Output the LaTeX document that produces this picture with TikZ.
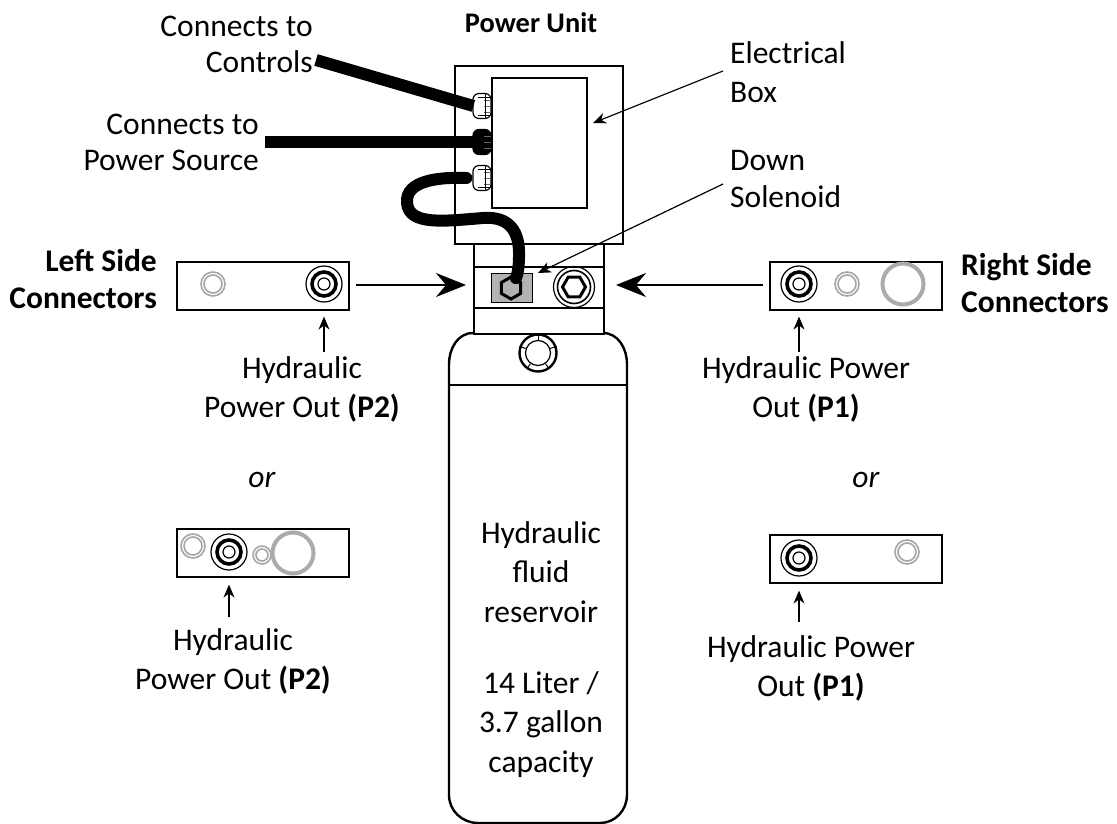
\documentclass[tikz,border=0pt]{standalone}
\usepackage{fontspec}
\setmainfont{Carlito}
\usetikzlibrary{shapes.geometric,arrows.meta}
\begin{document}
\begin{tikzpicture}[x=1pt, y=-1pt, line width=2.4pt,
    lbl/.style = {font=\fontsize{31.5}{36}\selectfont, inner sep=0pt},
    lblbold/.style = {font=\fontsize{31.5}{37.5}\selectfont\bfseries, inner sep=0pt},
    lblwide/.style = {font=\fontsize{31.5}{39.5}\selectfont, inner sep=0pt, align=center},
    box/.style = {draw, inner sep=0pt, anchor=north west, fill=white},
    plate/.style = {box, minimum width=172pt, minimum height=48pt, line width=1.6pt},
    ring/.style = {draw, circle, inner sep=0pt},
    grayring/.style = {ring, draw=black!35, line width=1.6pt},
    bigring/.style = {ring, draw=black!33, line width=4pt, minimum size=41pt},
    hexa/.style = {draw, regular polygon, regular polygon sides=6, inner sep=0pt},
    gland/.style = {draw, fill=white, rounded corners=6pt, minimum width=18pt, minimum height=25pt, inner sep=0pt, line width=1.2pt},
    cable/.style = {line width=12pt},
    leader/.style = {-{Stealth[length=13pt, width=11pt]}, line width=1.2pt},
    portarrow/.style = {leader, shorten >=14pt},
    bigarrow/.style = {-{Stealth[length=30pt, width=24pt, inset=10pt]}, line width=2.2pt}]
    \useasboundingbox (0,0) rectangle (1117,824);
    % reservoir and neck
    \draw (473,333) to[out=180, in=90] (449,364) -- (449,795) to[out=270, in=180] (478,823) -- (600,823) to[out=0, in=270] (627,795) -- (627,364) to[out=90, in=0] (603,333) -- cycle;
    \draw (449,385) -- (627,385);
    \node[box, minimum width=130pt, minimum height=90pt] (neck) at (473,243) {};
    \draw (473,267) -- (603,267);
    \draw (473,308) -- (603,308);
    \node[ring, minimum size=37pt] (fillcap) at (538,353) {};
    \node[ring, line width=1.2pt, minimum size=25pt] (fillin) at (538,353) {};
    \foreach \a in {20,90,160,235,305}
        \draw[line width=1.0pt] (fillcap.\a) -- (fillin.\a);
    % solenoid and plug
    \node[box, fill=black!30, line width=1.2pt, minimum width=41pt, minimum height=29pt] (solenoid) at (491,273) {};
    \node[ring, line width=1.2pt, minimum size=41pt] (plugA) at (574,287) {};
    \node[ring, line width=1.6pt, minimum size=33pt] (plugB) at (574,287) {};
    \node[hexa, line width=3pt, minimum size=23pt] (plugH) at (574,287) {};
    \node[hexa, shape border rotate=30, line width=3pt, fill=black!30, minimum size=22pt] (hexbolt) at (511,288) {};
    % power unit
    \node[box, minimum width=168pt, minimum height=178pt] (power) at (454,65) {};
    \node[box, minimum width=95pt, minimum height=130pt] (elec) at (491,77) {};
    % glands
    \node[gland] (glandA) at (482,106) {};
    \node[gland, fill=black] (glandB) at (482,142) {};
    \node[gland] (glandC) at (482,178) {};
    \foreach \y in {100,106,112,136,142,148,172,178,184}
        \draw[line width=0.8pt, draw=black!60] (484,\y) -- (491,\y);
    \foreach \y in {106,178} {
        \draw[line width=0.8pt] (478,\y-9) -- (491,\y-9);
        \draw[line width=0.8pt] (478,\y+9) -- (491,\y+9);
        \draw[line width=0.8pt] (485,\y-12) -- (485,\y+12);
    }
    % cables
    \coordinate (ctrlEnd) at (316,60);
    \coordinate (srcEnd) at (265,142);
    \draw[cable] (ctrlEnd) -- ([xshift=1pt]glandA.west);
    \draw[cable] (srcEnd) -- ([xshift=1pt]glandB.west);
    \draw[cable, line cap=round] ([xshift=-6pt]glandC.west) .. controls (440,177) and (405,180) .. (407,203) .. controls (409,226) and (445,221) .. (483,218) .. controls (510,216) and (520,232) .. (519,257) .. controls (519,268) and (517,276) .. (hexbolt);
    % plates
    \node[plate] (plateLT) at (176,261) {};
    \node[plate] (plateRT) at (769,261) {};
    \node[plate] (plateLB) at (176,528) {};
    \node[plate] (plateRB) at (769,534) {};
    % black ports
    \foreach \n/\x/\y in {pLT/324/284, pRT/799/284, pLB/229/552, pRB/799/558} {
        \node[ring, line width=1.2pt, minimum size=36pt] (\n a) at (\x,\y) {};
        \node[ring, line width=3.6pt, minimum size=24pt] (\n b) at (\x,\y) {};
        \node[ring, line width=1.2pt, minimum size=12pt] (\n c) at (\x,\y) {};
    }
    % gray ports
    \foreach \n/\x/\y/\s in {gLT/213/284/24, gRT/847/284/24, gLB/193/546/24, gRB/907/552/24, gLC/262/555/18} {
        \node[grayring, minimum size=\s pt] (\n a) at (\x,\y) {};
        \node[grayring, minimum size=\s pt-6pt] (\n b) at (\x,\y) {};
    }
    \node[bigring] (gRTbig) at (903,284) {};
    \node[bigring] (gLBbig) at (293,553) {};
    % labels
    \node[lbl, align=right, anchor=north east] (toCtrl) at (314,15) {Connects to\\Controls};
    \node[lbl, align=right, anchor=north east] (toSrc) at (260,113) {Connects to\\Power Source};
    \node[lblbold, font=\fontsize{28.4}{36}\selectfont\bfseries] (unit) at (531,23) {Power Unit};
    \node[lbl, align=left, anchor=north west, font=\fontsize{31.5}{39}\selectfont] (elecL) at (729,40) {Electrical\\Box};
    \node[lbl, align=left, anchor=north west, font=\fontsize{31.5}{37}\selectfont] (downL) at (729,149) {Down\\Solenoid};
    \node[lblbold, align=right, anchor=north east] (leftL) at (158,248) {Left Side\\Connectors};
    \node[lblbold, align=left, anchor=north west] (rightL) at (960,252) {Right Side\\Connectors};
    \node[lblwide, anchor=north] (p2top) at (302,355) {Hydraulic\\Power Out \textbf{(P2)}};
    \node[lblwide, anchor=north] (p1top) at (806,355) {Hydraulic Power\\Out \textbf{(P1)}};
    \node[lbl] (orL) at (262,480) {\textit{or}};
    \node[lbl] (orR) at (866,480) {\textit{or}};
    \node[lblwide, anchor=north] (p2bot) at (233,627) {Hydraulic\\Power Out \textbf{(P2)}};
    \node[lblwide, anchor=north] (p1bot) at (811,634) {Hydraulic Power\\Out \textbf{(P1)}};
    \node[lblwide, anchor=north] (resL) at (541,520) {Hydraulic\\fluid\\reservoir\\[-8pt]\phantom{x}\\14 Liter /\\3.7 gallon\\capacity};
    % arrows
    \coordinate (elecTail) at (723,71);
    \coordinate (elecTip) at (593,123);
    \coordinate (downTail) at (723,184);
    \coordinate (downTip) at (538,273);
    \draw[leader] (elecTail) -- (elecTip);
    \draw[leader] (downTail) -- (downTip);
    \coordinate (bigLs) at (356,285);
    \coordinate (bigLe) at (466,285);
    \coordinate (bigRs) at (763,285);
    \coordinate (bigRe) at (616,285);
    \draw[bigarrow] (bigLs) -- (bigLe);
    \draw[bigarrow] (bigRs) -- (bigRe);
    \coordinate (tailLT) at (324,352);
    \coordinate (tailRT) at (799,352);
    \coordinate (tailLB) at (229,617);
    \coordinate (tailRB) at (799,622);
    \draw[portarrow] (tailLT) -- (pLTa);
    \draw[portarrow] (tailRT) -- (pRTa);
    \draw[portarrow] (tailLB) -- (pLBa);
    \draw[portarrow] (tailRB) -- (pRBa);
\end{tikzpicture}
\end{document}
